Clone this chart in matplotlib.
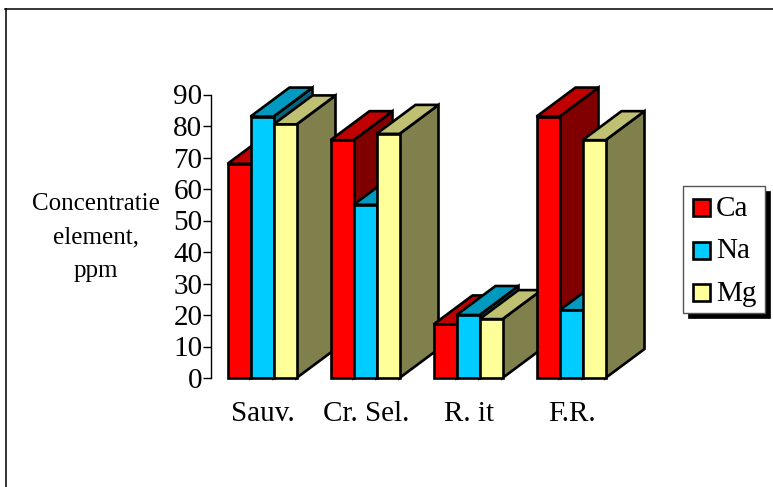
import matplotlib
matplotlib.use("Agg")
import matplotlib.pyplot as plt
from matplotlib.patches import Polygon, Rectangle
from matplotlib.lines import Line2D

categories = ["Sauv.", "Cr. Sel.", "R. it", "F.R."]
series_names = ["Ca", "Na", "Mg"]
ca = [68, 75.5, 17, 83]
na = [83, 55, 20, 21.5]
mg = [80.5, 77.5, 18.7, 75.5]
y_ticks = list(range(0, 100, 10))
y_label = "Concentratie\nelement,\nppm"

front = ["#FF0000", "#00CCFF", "#FFFF99"]
top = ["#C00000", "#0099BF", "#C0C073"]
side = ["#800000", "#006680", "#80804D"]

W, H = 773, 487
plt.rcParams["font.family"] = ["Liberation Serif", "DejaVu Serif"]
fig = plt.figure(figsize=(W / 100, H / 100), dpi=100)
fig.patch.set_facecolor("white")

# page frame (top and left only)
fig.add_artist(Line2D([5.5 / W, 5.5 / W], [0, 1 - 9 / H], color="#333333", lw=1.4))
fig.add_artist(Line2D([5 / W, 1], [1 - 9 / H, 1 - 9 / H], color="black", lw=1.1))

# axes: 0 at y=378, 90 at y=94.5; group spacing 103 px
left, right, y0, y90 = 211.5, 623.5, 378.0, 94.5
ax = fig.add_axes([left / W, 1 - y0 / H, (right - left) / W, (y0 - y90) / H])
ax.set_xlim(-0.5, 3.5)
ax.set_ylim(0, 90)
ax.patch.set_alpha(0)
for s in ["top", "right", "bottom"]:
    ax.spines[s].set_visible(False)
ax.spines["left"].set_linewidth(1.0)
ax.set_yticks(y_ticks)
ax.tick_params(axis="y", direction="out", length=6, width=1.0, labelsize=21, pad=0.5)
ax.set_xticks(range(len(categories)))
ax.set_xticklabels(categories, fontsize=21)
ax.tick_params(axis="x", length=0, pad=16.5)

px_x = 4 / (right - left)     # data units per pixel in x
px_y = 90 / (y0 - y90)        # data units per pixel in y
bw = 23 * px_x
dx, dy = 39 * px_x, 29 * px_y
shift = -1 * px_x
kw = dict(edgecolor="black", linewidth=1.9, joinstyle="miter", clip_on=False)

z = 2
for g in range(len(categories)):
    for s, values in enumerate([ca, na, mg]):
        x0 = g + (s - 1.5) * bw + shift
        x1 = x0 + bw
        v = values[g]
        ax.add_patch(Polygon([(x1, 0), (x1 + dx, dy), (x1 + dx, v + dy), (x1, v)],
                             facecolor=side[s], zorder=z, **kw))
        ax.add_patch(Polygon([(x0, v), (x1, v), (x1 + dx, v + dy), (x0 + dx, v + dy)],
                             facecolor=top[s], zorder=z, **kw))
        ax.add_patch(Rectangle((x0, 0), bw, v, facecolor=front[s], zorder=z + 0.5, **kw))
        z += 1

fig.text(95.5 / W, 1 - 237.5 / H, y_label, ha="center", va="center", fontsize=18,
         linespacing=1.66, color="black")

# legend box with shadow
lx0, lx1, ly0, ly1 = 683, 765, 186, 313
fig.add_artist(Rectangle(((lx0 + 5) / W, 1 - (ly1 + 5) / H), (lx1 - lx0) / W, (ly1 - ly0) / H,
                         transform=fig.transFigure, facecolor="black", edgecolor="black", lw=0.5))
fig.add_artist(Rectangle((lx0 / W, 1 - ly1 / H), (lx1 - lx0) / W, (ly1 - ly0) / H,
                         transform=fig.transFigure, facecolor="white", edgecolor="#555555", lw=1.0))
for i, name in enumerate(series_names):
    cy = 207.5 + i * 42.5
    fig.add_artist(Rectangle((693 / W, 1 - (cy + 8.5) / H), 17 / W, 17 / H, transform=fig.transFigure,
                             facecolor=front[i], edgecolor="black", lw=1.9))
    fig.text(716 / W, 1 - (cy + 1.5) / H, name, ha="left", va="center", fontsize=21)

fig.savefig("out.png", dpi=100)
